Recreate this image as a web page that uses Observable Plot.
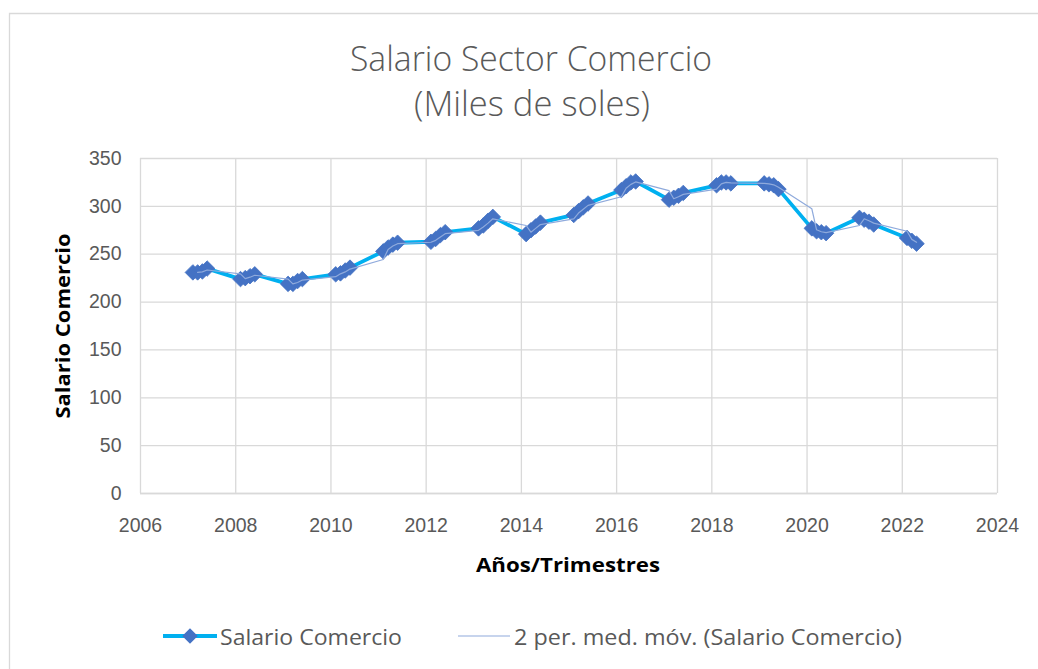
<!DOCTYPE html>
<html>
<head>
<meta charset="utf-8">
<script src="https://cdn.jsdelivr.net/npm/d3@7"></script>
<script src="https://cdn.jsdelivr.net/npm/@observablehq/plot@0.6"></script>
<style>
  html, body { margin: 0; padding: 0; background: #ffffff; }
  svg { display: block; }
</style>
</head>
<body>
<div id="chart"></div>
<script>
// Quarterly periods (year + quarter/10)
const periodo = [
  2007.1, 2007.2, 2007.3, 2007.4,
  2008.1, 2008.2, 2008.3, 2008.4,
  2009.1, 2009.2, 2009.3, 2009.4,
  2010.1, 2010.2, 2010.3, 2010.4,
  2011.1, 2011.2, 2011.3, 2011.4,
  2012.1, 2012.2, 2012.3, 2012.4,
  2013.1, 2013.2, 2013.3, 2013.4,
  2014.1, 2014.2, 2014.3, 2014.4,
  2015.1, 2015.2, 2015.3, 2015.4,
  2016.1, 2016.2, 2016.3, 2016.4,
  2017.1, 2017.2, 2017.3, 2017.4,
  2018.1, 2018.2, 2018.3, 2018.4,
  2019.1, 2019.2, 2019.3, 2019.4,
  2020.1, 2020.2, 2020.3, 2020.4,
  2021.1, 2021.2, 2021.3, 2021.4,
  2022.1, 2022.2, 2022.3
];
const salario = [
  231, 231, 232, 235,
  224, 225, 227, 229,
  219, 219, 222, 224,
  229, 230, 233, 236,
  253, 257, 260, 262,
  263, 266, 270, 273,
  277, 280, 285, 289,
  271, 275, 279, 283,
  291, 295, 299, 303,
  317, 321, 325, 326,
  307, 309, 311, 314,
  322, 325, 325, 324,
  324, 323, 322, 318,
  277, 274, 273, 272,
  288, 286, 284, 281,
  267, 264, 261
];
const xTicks = [2006, 2008, 2010, 2012, 2014, 2016, 2018, 2020, 2022, 2024];
const yTicks = [0, 50, 100, 150, 200, 250, 300, 350];

const titulo = "Salario Sector Comercio";
const subtitulo = "(Miles de soles)";
const tituloX = "Años/Trimestres";
const tituloY = "Salario Comercio";
const serie1 = "Salario Comercio";
const serie2 = "2 per. med. móv. (Salario Comercio)";

const data = periodo.map((p, i) => ({periodo: p, salario: salario[i]}));

const lineColor = "#00b0f0";
const markerColor = "#4472c4";
const maColor = "#8faadc";
const gridColor = "#d9d9d9";
const textColor = "#595959";
const markerR = 7;

const svg = Plot.plot({
  width: 1038,
  height: 669,
  marginLeft: 140,
  marginRight: 41,
  marginTop: 158,
  marginBottom: 176,
  style: {fontFamily: "'Liberation Sans', Arial, sans-serif", fontSize: "19.5px", color: textColor, background: "#ffffff"},
  x: {domain: [2006, 2024], ticks: xTicks, tickFormat: d => String(d), tickSize: 0, tickPadding: 25, label: null},
  y: {domain: [0, 350], ticks: yTicks, tickSize: 0, tickPadding: 19, label: null},
  marks: [
    Plot.gridX(xTicks, {stroke: gridColor, strokeOpacity: 1, strokeWidth: 1.3}),
    Plot.gridY(yTicks, {stroke: gridColor, strokeOpacity: 1, strokeWidth: 1.3}),
    Plot.ruleY([0], {stroke: gridColor, strokeWidth: 1.3}),
    Plot.line(data, {x: "periodo", y: "salario", stroke: lineColor, strokeWidth: 3.8}),
    Plot.dot(data, {x: "periodo", y: "salario", symbol: "diamond2", r: markerR, fill: markerColor, stroke: markerColor, strokeWidth: 0.8}),
    Plot.lineY(data, Plot.windowY({k: 2, anchor: "end", strict: true}, {x: "periodo", y: "salario", stroke: maColor, strokeWidth: 1.2}))
  ]
});

document.getElementById("chart").appendChild(svg);
const s = d3.select(svg);

// chart frame (top and left edges visible)
s.insert("path", ":first-child")
  .attr("d", "M9.5,700 L9.5,13.5 L1100,13.5")
  .attr("fill", "none").attr("stroke", gridColor).attr("stroke-width", 1.3);

function addText(txt, x, y, size, weight, len, extra) {
  const t = s.append("text")
    .attr("x", x).attr("y", y)
    .attr("text-anchor", "middle")
    .attr("font-family", "'Open Sans', 'Noto Sans', 'Liberation Sans', sans-serif")
    .attr("font-size", size + "px")
    .attr("font-weight", weight)
    .attr("fill", textColor)
    .attr("textLength", len)
    .attr("lengthAdjust", "spacingAndGlyphs")
    .text(txt);
  if (extra) extra(t);
  return t;
}

addText(titulo, 531, 71, 34, 300, 362);
addText(subtitulo, 532, 116, 34, 300, 236);
addText(tituloX, 568, 572, 19, 700, 184, t => t.attr("fill", "#000000"));
addText(tituloY, 0, 0, 19, 700, 185, t => t.attr("fill", "#000000").attr("transform", "translate(70,326) rotate(-90)"));

// legend
s.append("line").attr("x1", 163).attr("x2", 217).attr("y1", 636).attr("y2", 636)
  .attr("stroke", lineColor).attr("stroke-width", 3.8);
s.append("path").attr("d", d3.symbol(d3.symbolDiamond2, markerR * markerR * Math.PI)())
  .attr("transform", "translate(190,636)").attr("fill", markerColor);
addText(serie1, 311, 645, 22, 400, 182);
s.append("line").attr("x1", 458).attr("x2", 510).attr("y1", 636).attr("y2", 636)
  .attr("stroke", maColor).attr("stroke-width", 1.2);
addText(serie2, 708, 645, 22, 400, 388);
</script>
</body>
</html>
